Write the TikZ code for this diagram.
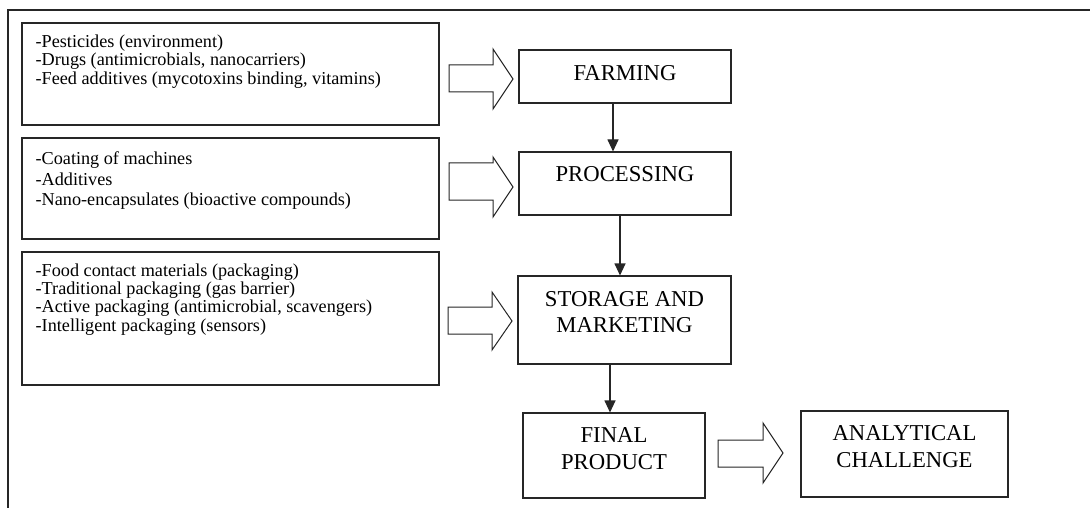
\documentclass[tikz,border=0pt]{standalone}
\usepackage{fontspec}
\setmainfont{Liberation Serif}
\usetikzlibrary{arrows.meta}
\tikzset{
  x=1pt, y=-1pt,
  frame/.style={draw=black!85, line width=1.1pt},
  srcbox/.style={draw=black!85, line width=1.1pt, rectangle, inner sep=0pt},
  mainbox/.style={draw=black!85, line width=1.1pt, rectangle, inner sep=0pt},
  srctxt/.style={anchor=base west, inner sep=0pt},
  lbl/.style={anchor=north, inner sep=0pt, align=center, font=\fontsize{22.7}{26.3}\selectfont},
  flow/.style={draw=black!85, line width=1.1pt, -{Triangle[length=12pt,width=11pt]}},
  barrow/.style={draw=black!85, line width=1pt, line join=miter, fill=white}
}
% block arrow: x0, xneck, xtip, shaft top, shaft bottom, head top, head bottom
\newcommand\myblockarrow[7]{%
  \draw[barrow] (#1,#4) -- (#2,#4) -- (#2,#6) -- (#3,{(#6+#7)/2}) -- (#2,#7) -- (#2,#5) -- (#1,#5) -- cycle;}
% source text block: line skip, text
\newcommand\srclines[2]{\parbox[t]{390pt}{\fontsize{18.2}{#1}\selectfont\raggedright #2}}
\begin{document}
\begin{tikzpicture}
\useasboundingbox (0,0) rectangle (1090,508);
% outer frame (only top and left visible)
\coordinate (fbl) at (8,508);
\coordinate (ftl) at (8,10);
\coordinate (ftr) at (1090,10);
\draw[frame] (fbl) -- (ftl) -- (ftr);

% source boxes
\node[srcbox, minimum width=417, minimum height=102] (s1) at (230.5,74) {};
\node[srcbox, minimum width=417, minimum height=101] (s2) at (230.5,188.5) {};
\node[srcbox, minimum width=417, minimum height=133] (s3) at (230.5,318.5) {};

\node[srctxt] (t1) at ([shift={(14,24.7)}]s1.north west) {\srclines{18.7pt}{-Pesticides (environment)\\-Drugs (antimicrobials, nanocarriers)\\-Feed additives (mycotoxins binding, vitamins)}};
\node[srctxt] (t2) at ([shift={(14,27)}]s2.north west) {\srclines{20.6pt}{-Coating of machines\\-Additives\\-Nano-encapsulates (bioactive compounds)}};
\node[srctxt] (t3) at ([shift={(14,25.3)}]s3.north west) {\srclines{18.1pt}{-Food contact materials (packaging)\\-Traditional packaging (gas barrier)\\-Active packaging (antimicrobial, scavengers)\\-Intelligent packaging (sensors)}};

% main chain boxes
\node[mainbox, minimum width=212, minimum height=53] (farm) at (625,76.5) {};
\node[mainbox, minimum width=212, minimum height=63] (proc) at (625,183.5) {};
\node[mainbox, minimum width=213, minimum height=88] (stor) at (624.5,320) {};
\node[mainbox, minimum width=182, minimum height=85] (fin) at (614,455.5) {};
\node[mainbox, minimum width=207, minimum height=86] (ana) at (904.5,454) {};

\node[lbl] (l1) at ([shift={(0,16)}]farm.north) {FARMING};
\node[lbl] (l2) at ([shift={(0,15)}]proc.north) {PROCESSING};
\node[lbl] (l3) at ([shift={(0,15.7)}]stor.north) {STORAGE AND\\MARKETING};
\node[lbl] (l4) at ([shift={(0,15.3)}]fin.north) {FINAL\\PRODUCT};
\node[lbl] (l5) at ([shift={(0,15.3)}]ana.north) {ANALYTICAL\\CHALLENGE};

% vertical flow arrows
\coordinate (a1) at (613,0);
\coordinate (a2) at (620,0);
\coordinate (a3) at (610,0);
\draw[flow] (farm.south -| a1) -- (proc.north -| a1);
\draw[flow] (proc.south -| a2) -- (stor.north -| a2);
\draw[flow] (stor.south -| a3) -- (fin.north -| a3);

% block arrows
\myblockarrow{449}{493}{513}{65}{92}{49}{109}
\myblockarrow{449}{493}{513}{163}{200}{157}{217}
\myblockarrow{448}{492}{512}{307}{334}{292}{350}
\myblockarrow{718}{763}{783}{440}{467}{423}{483}
\end{tikzpicture}
\end{document}
